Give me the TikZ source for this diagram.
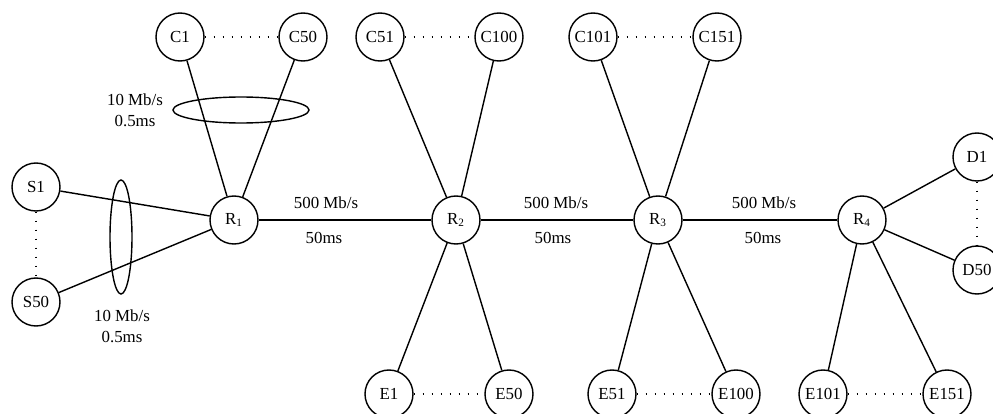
\documentclass[tikz,border=0pt]{standalone}
\usepackage{fontspec}
\setmainfont{Liberation Serif}
\usepackage{tikz}
\usetikzlibrary{positioning}

\begin{document}
\begin{tikzpicture}[x=0.25mm,y=-0.25mm,line width=1pt]

\tikzset{vertex/.style = {shape=circle,draw,minimum size=12mm,inner sep=0pt,font=\fontsize{12}{14}\selectfont}}
\tikzset{trunk/.style = {line width=1.9pt}}
\tikzset{group/.style = {line width=1.6pt,dash pattern=on 0.9pt off 5.5pt}}
\tikzset{lbl/.style = {font=\fontsize{12}{14}\selectfont,inner sep=1pt}}

\useasboundingbox (0,0) rectangle (993,414);

% routers
\node[vertex] (R1) at (234,220) {R\textsubscript{1}};
\node[vertex] (R2) at (456,220) {R\textsubscript{2}};
\node[vertex] (R3) at (658,220) {R\textsubscript{3}};
\node[vertex] (R4) at (862,220) {R\textsubscript{4}};

% sources
\node[vertex] (S1) at (36,187) {S1};
\node[vertex] (S50) at (36,302) {S50};

% cross traffic, top row
\node[vertex] (C1) at (180,37) {C1};
\node[vertex] (C50) at (303,37) {C50};
\node[vertex] (C51) at (380,37) {C51};
\node[vertex] (C100) at (499,37) {C100};
\node[vertex] (C101) at (593,37) {C101};
\node[vertex] (C151) at (717,37) {C151};

% cross traffic, bottom row
\node[vertex] (E1) at (389,394) {E1};
\node[vertex] (E50) at (509,394) {E50};
\node[vertex] (E51) at (612,394) {E51};
\node[vertex] (E100) at (736,394) {E100};
\node[vertex] (E101) at (823,394) {E101};
\node[vertex] (E151) at (947,394) {E151};

% sinks
\node[vertex] (D1) at (977,157) {D1};
\node[vertex] (D50) at (977,270) {D50};

% access links
\draw (S1) -- (R1);
\draw (S50) -- (R1);
\draw (C1) -- (R1);
\draw (C50) -- (R1);
\draw (C51) -- (R2);
\draw (C100) -- (R2);
\draw (E1) -- (R2);
\draw (E50) -- (R2);
\draw (C101) -- (R3);
\draw (C151) -- (R3);
\draw (E51) -- (R3);
\draw (E100) -- (R3);
\draw (E101) -- (R4);
\draw (E151) -- (R4);
\draw (D1) -- (R4);
\draw (D50) -- (R4);

% bottleneck links
\draw[trunk] (R1) -- (R2);
\draw[trunk] (R2) -- (R3);
\draw[trunk] (R3) -- (R4);

% groups of hosts
\draw[group] (C1) -- (C50);
\draw[group] (C51) -- (C100);
\draw[group] (C101) -- (C151);
\draw[group] (E1) -- (E50);
\draw[group] (E51) -- (E100);
\draw[group] (E101) -- (E151);
\draw[group] (S1) -- (S50);
\draw[group] (D1) -- (D50);

% bundles of access links
\draw (241,110) ellipse [x radius=68, y radius=13];
\draw (121,237) ellipse [x radius=11, y radius=57];

% link labels
\node[lbl] (bwC) at (135,100) {10 Mb/s};
\node[lbl] (dlC) [below=4pt of bwC] {0.5ms};
\node[lbl] (bwS) at (122,316) {10 Mb/s};
\node[lbl] (dlS) [below=4pt of bwS] {0.5ms};
\node[lbl] (bw12) at (326,203) {500 Mb/s};
\node[lbl] (dl12) at (324,238) {50ms};
\node[lbl] (bw23) at (556,203) {500 Mb/s};
\node[lbl] (dl23) at (553,238) {50ms};
\node[lbl] (bw34) at (764,203) {500 Mb/s};
\node[lbl] (dl34) at (763,238) {50ms};

\end{tikzpicture}
\end{document}
